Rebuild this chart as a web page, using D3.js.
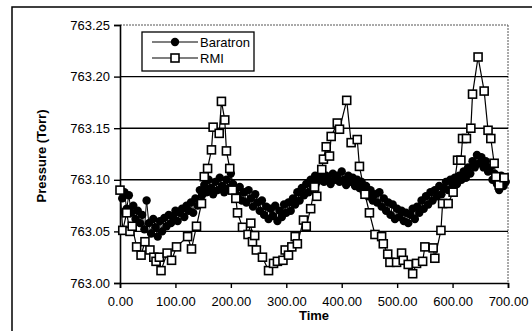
<!DOCTYPE html>
<html><head><meta charset="utf-8">
<script src="https://cdn.jsdelivr.net/npm/d3@7"></script>
<style>body{margin:0;background:#fff}svg{display:block}text{font-family:"Liberation Sans",Arial,sans-serif}</style>
</head><body><svg id="c" width="532" height="331"></svg>
<script>
const xTicks = [0,100,200,300,400,500,600,700];
const yTicks = [763.00,763.05,763.10,763.15,763.20,763.25];
const seriesNames = ["Baratron","RMI"];

const baratronTime = [0,4,8,12,16,20,24,28,32,36,40,44,48,52,56,60,64,68,72,76,80,84,88,92,96,100,104,108,112,116,120,124,128,132,136,140,144,148,152,156,160,164,168,172,176,180,184,188,192,196,200,204,208,212,216,220,224,228,232,236,240,244,248,252,256,260,264,268,272,276,280,284,288,292,296,300,304,308,312,316,320,324,328,332,336,340,344,348,352,356,360,364,368,372,376,380,384,388,392,396,400,404,408,412,416,420,424,428,432,436,440,444,448,452,456,460,464,468,472,476,480,484,488,492,496,500,504,508,512,516,520,524,528,532,536,540,544,548,552,556,560,564,568,572,576,580,584,588,592,596,600,604,608,612,616,620,624,628,632,636,640,644,648,652,656,660,664,668,672,676,680,684,688,692,696];
const baratronValue = [763.090,763.082,763.088,763.072,763.085,763.068,763.075,763.062,763.070,763.058,763.066,763.052,763.080,763.058,763.048,763.062,763.054,763.045,763.060,763.050,763.063,763.055,763.066,763.058,763.064,763.070,763.060,763.068,763.072,763.064,763.075,763.070,763.078,763.068,763.082,763.075,763.090,763.085,763.095,763.088,763.100,763.092,763.086,763.098,763.090,763.102,763.094,763.088,763.100,763.092,763.106,763.096,763.090,763.085,763.093,763.080,763.088,763.078,763.090,763.082,763.074,763.086,763.078,763.070,763.080,763.066,763.074,763.062,763.072,763.065,763.075,763.060,763.070,763.064,763.076,763.068,763.078,763.070,763.082,763.076,763.088,763.080,763.092,763.085,763.096,763.088,763.100,763.094,763.104,763.098,763.102,763.108,763.098,763.104,763.100,763.096,763.106,763.100,763.104,763.098,763.108,763.100,763.095,763.104,763.098,763.102,763.094,763.100,763.092,763.098,763.088,763.094,763.084,763.090,763.080,763.086,763.078,763.088,763.074,763.082,763.070,763.078,763.066,763.076,763.062,763.072,763.064,763.070,763.060,763.068,763.058,763.066,763.072,763.062,763.074,763.068,763.080,763.072,763.084,763.076,763.088,763.080,763.090,763.084,763.094,763.086,763.092,763.098,763.090,763.100,763.094,763.102,763.096,763.104,763.100,763.108,763.102,763.112,763.106,763.118,763.112,763.124,763.116,763.122,763.112,763.118,763.108,763.112,763.100,763.106,763.096,763.090,763.104,763.094,763.098];

const rmiTime = [0,5,12,18,22,30,38,45,54,61,65,71,74,85,93,102,122,129,138,147,152,158,165,168,179,183,189,192,198,203,209,212,221,231,236,239,243,246,257,268,277,284,294,298,304,310,316,320,331,336,344,351,355,364,367,372,378,381,392,396,409,417,428,432,442,450,460,472,475,483,487,499,508,511,520,528,535,546,550,565,568,579,582,592,601,609,615,618,625,633,636,646,657,664,669,675,678,684,693];
const rmiValue = [763.090,763.051,763.068,763.050,763.055,763.035,763.027,763.040,763.032,763.025,763.021,763.025,763.012,763.029,763.022,763.035,763.045,763.033,763.055,763.077,763.103,763.111,763.129,763.151,763.145,763.176,763.158,763.128,763.111,763.090,763.082,763.068,763.054,763.047,763.058,763.040,763.046,763.032,763.025,763.012,763.019,763.021,763.022,763.032,763.027,763.035,763.045,763.038,763.061,763.055,763.072,763.093,763.084,763.110,763.120,763.132,763.123,763.142,763.155,763.149,763.177,763.136,763.139,763.113,763.086,763.068,763.047,763.045,763.038,763.028,763.020,763.020,763.029,763.022,763.018,763.009,763.019,763.021,763.035,763.034,763.024,763.051,763.077,763.077,763.088,763.119,763.119,763.140,763.140,763.150,763.183,763.219,763.186,763.148,763.140,763.116,763.103,763.095,763.102];

const svg = d3.select("#c");
const L = 120, R = 508, T = 25, B = 283;
const x = d3.scaleLinear().domain([0,700]).range([L,R]);
const y = d3.scaleLinear().domain([763.00,763.25]).range([B,T]);

// outer frame
svg.append("rect").attr("x",12).attr("y",7).attr("width",560).attr("height",360)
  .attr("fill","#fff").attr("stroke","#000").attr("stroke-width",1.5);

// plot border (top & right dotted)
svg.append("line").attr("x1",L).attr("x2",R).attr("y1",y(763.25)).attr("y2",y(763.25))
  .attr("stroke","#555").attr("stroke-width",1).attr("stroke-dasharray","2,1");
svg.append("line").attr("x1",R).attr("x2",R).attr("y1",T).attr("y2",B)
  .attr("stroke","#555").attr("stroke-width",1).attr("stroke-dasharray","2,1");

// gridlines
svg.append("g").selectAll("line").data(yTicks.filter(d=>d>763.001 && d<763.249)).join("line")
  .attr("x1",L).attr("x2",R).attr("y1",d=>y(d)).attr("y2",d=>y(d))
  .attr("stroke","#000").attr("stroke-width",1.4);

// axes
const xa = svg.append("g").attr("transform",`translate(0,${B})`)
  .call(d3.axisBottom(x).tickValues(xTicks).tickFormat(d3.format(".2f")).tickSizeOuter(0).tickSize(5).tickPadding(9));
const ya = svg.append("g").attr("transform",`translate(${L},0)`)
  .call(d3.axisLeft(y).tickValues(yTicks).tickFormat(d3.format(".2f")).tickSizeOuter(0).tickSize(6).tickPadding(4));
[xa,ya].forEach(a=>{
  a.select(".domain").attr("stroke","#000").attr("stroke-width",1.6);
  a.selectAll(".tick line").attr("stroke","#000").attr("stroke-width",1.4);
  a.selectAll(".tick text").attr("fill","#000").attr("font-size",13)
   .style("font-family",'"Liberation Sans",Arial,sans-serif');
});

// Baratron
const bData = baratronTime.map((t,i)=>[t,baratronValue[i]]);
const line = d3.line().x(d=>x(d[0])).y(d=>y(d[1]));
svg.append("path").attr("d",line(bData)).attr("fill","none").attr("stroke","#000").attr("stroke-width",1);
svg.append("g").selectAll("circle").data(bData).join("circle")
  .attr("cx",d=>x(d[0])).attr("cy",d=>y(d[1])).attr("r",4.2).attr("fill","#000");

// RMI
const rData = rmiTime.map((t,i)=>[t,rmiValue[i]]);
svg.append("path").attr("d",line(rData)).attr("fill","none").attr("stroke","#000").attr("stroke-width",1.2);
const s = 8;
svg.append("g").selectAll("rect").data(rData).join("rect")
  .attr("x",d=>x(d[0])-s/2).attr("y",d=>y(d[1])-s/2).attr("width",s).attr("height",s)
  .attr("fill","#fff").attr("stroke","#000").attr("stroke-width",1.6);

// axis titles
svg.append("text").attr("x",(L+R)/2).attr("y",320).attr("text-anchor","middle")
  .attr("font-size",13).attr("font-weight","bold").text("Time");
svg.append("text").attr("transform","translate(46,156) rotate(-90)").attr("text-anchor","middle")
  .attr("font-size",13).attr("font-weight","bold").text("Pressure (Torr)");

// legend
const lg = svg.append("g");
lg.append("rect").attr("x",142).attr("y",32).attr("width",112).attr("height",39)
  .attr("fill","#fff").attr("stroke","#000").attr("stroke-width",1.3);
const ly = [42,58];
seriesNames.forEach((n,i)=>{
  lg.append("line").attr("x1",152).attr("x2",198).attr("y1",ly[i]).attr("y2",ly[i]).attr("stroke","#000").attr("stroke-width",1.2);
  if(i===0) lg.append("circle").attr("cx",175).attr("cy",ly[i]).attr("r",4.2).attr("fill","#000");
  else lg.append("rect").attr("x",171).attr("y",ly[i]-4).attr("width",8).attr("height",8).attr("fill","#fff").attr("stroke","#000").attr("stroke-width",1.6);
  lg.append("text").attr("x",200).attr("y",ly[i]+4.5).attr("font-size",13).text(n);
});
</script></body></html>
